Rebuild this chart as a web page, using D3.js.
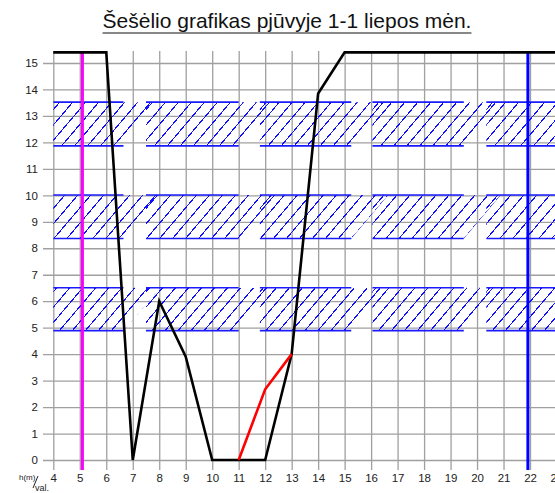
<!DOCTYPE html>
<html>
<head>
<meta charset="utf-8">
<script src="https://cdn.jsdelivr.net/npm/d3@7"></script>
<style>
  body { margin: 0; background: #fff; }
  svg { display: block; font-family: "Liberation Sans", Arial, sans-serif; }
</style>
</head>
<body>
<script>
// shadow line, hours vs height
var hours = [4, 6, 7, 8, 9, 10, 12, 13, 14, 15, 24];
var shadow = [15.4, 15.4, 0, 6, 3.9, 0, 0, 4, 13.85, 15.4, 15.4];

// red segment
var redHours = [11, 12, 13];
var redValues = [0, 2.67, 4];

// hatched bands (window rows)
var bandTop = [13.52, 10.01, 6.51];
var bandBottom = [11.87, 8.37, 4.89];
var segStart = [4, 7.5, 11.8, 16.05, 20.35];
var segEnd = [6.65, 11.0, 15.25, 19.5, 24];

// vertical markers
var sunrise = 5.1, sunset = 21.92;

var xTicks = d3.range(4, 24);
var yTicks = d3.range(0, 16);

var W = 555, H = 493;

var svg = d3.select("body").append("svg")
            .attr("width", W)
            .attr("height", H);

var x = d3.scaleLinear().domain([4, 23]).range([53.3, 556.5]);
var y = d3.scaleLinear().domain([0, 15]).range([460, 63]);

var gridTop = y(15.45), gridBottom = 470, gridLeft = 43;

// title
var title = svg.append("text")
   .attr("x", 287)
   .attr("y", 28)
   .attr("text-anchor", "middle")
   .style("font-size", "21px")
   .style("fill", "#111")
   .text("Šešėlio grafikas pjūvyje 1-1 liepos mėn.");
var tw = title.node().getComputedTextLength();
svg.append("line")
   .attr("x1", 287 - tw / 2).attr("x2", 287 + tw / 2)
   .attr("y1", 33).attr("y2", 33)
   .attr("stroke", "#111").attr("stroke-width", 1.2);

// y axis with grid
var yAxis = svg.append("g")
   .attr("transform", "translate(" + gridLeft + ",0)")
   .call(d3.axisLeft(y).tickValues(yTicks).tickSize(-(W - gridLeft + 5)).tickPadding(5));
yAxis.select(".domain").remove();
yAxis.selectAll("line").attr("stroke", "#a0a0a0").attr("stroke-width", 1.3)
     .attr("x1", 0);
yAxis.selectAll("text").style("font-size", "11.5px").style("fill", "#222")
     .style("font-family", "Liberation Sans, Arial, sans-serif");

// x axis with grid
var xAxis = svg.append("g")
   .attr("transform", "translate(0," + gridBottom + ")")
   .call(d3.axisBottom(x).tickValues(xTicks).tickSize(-(gridBottom - gridTop)).tickPadding(4));
xAxis.select(".domain").remove();
xAxis.selectAll("line").attr("stroke", "#a0a0a0").attr("stroke-width", 1.3);
xAxis.selectAll("text").style("font-size", "11.5px").style("fill", "#222")
     .style("font-family", "Liberation Sans, Arial, sans-serif");

// axis caption h(m)/val.
var cap = svg.append("g").style("fill", "#222");
cap.append("text").attr("x", 19).attr("y", 480).style("font-size", "8px").text("h(m)");
cap.append("line").attr("x1", 33).attr("y1", 488).attr("x2", 38).attr("y2", 476)
   .attr("stroke", "#222").attr("stroke-width", 1);
cap.append("text").attr("x", 35).attr("y", 491).style("font-size", "9px").text("val.");

// hatched bands
var defs = svg.append("defs");
var hatch = svg.append("g");
var spacing = 13;
bandTop.forEach(function(t, bi) {
  var yt = y(t), yb = y(bandBottom[bi]), h = yb - yt;
  segStart.forEach(function(s, si) {
    var xa = x(s), xb = x(segEnd[si]);
    var id = "clip" + bi + "_" + si;
    defs.append("clipPath").attr("id", id)
        .append("polygon")
        .attr("points", [[xa, yb], [xb, yb], [xb + h * 0.85, yt], [xa, yt]].join(" "));
    var g = hatch.append("g").attr("clip-path", "url(#" + id + ")");
    for (var x0 = xa - h + ((bi * 5) % spacing); x0 < xb + 1; x0 += spacing) {
      g.append("line")
       .attr("x1", x0).attr("y1", yb)
       .attr("x2", x0 + h * 0.85).attr("y2", yt)
       .attr("stroke", "#1010ff").attr("stroke-width", 1.1)
       .attr("shape-rendering", "crispEdges");
    }
    hatch.append("line").attr("x1", xa).attr("x2", xb).attr("y1", yt).attr("y2", yt)
         .attr("stroke", "#1a1aff").attr("stroke-width", 1.6);
    hatch.append("line").attr("x1", xa).attr("x2", xb).attr("y1", yb).attr("y2", yb)
         .attr("stroke", "#1a1aff").attr("stroke-width", 1.6);
  });
});

// vertical markers
svg.append("line")
   .attr("x1", x(sunrise)).attr("x2", x(sunrise))
   .attr("y1", gridTop).attr("y2", gridBottom)
   .attr("stroke", "#ff00ff").attr("stroke-width", 3);
svg.append("line")
   .attr("x1", x(sunset)).attr("x2", x(sunset))
   .attr("y1", gridTop).attr("y2", gridBottom)
   .attr("stroke", "#0000ff").attr("stroke-width", 3);

// shadow line
var line = d3.line()
   .x(function(d) { return x(d[0]); })
   .y(function(d) { return y(d[1]); });

svg.append("path")
   .datum(d3.zip(hours, shadow))
   .attr("d", line)
   .attr("fill", "none")
   .attr("stroke", "#000")
   .attr("stroke-width", 2.6)
   .attr("stroke-linejoin", "miter");

svg.append("path")
   .datum(d3.zip(redHours, redValues))
   .attr("d", line)
   .attr("fill", "none")
   .attr("stroke", "#ff0000")
   .attr("stroke-width", 2.6);
</script>
</body>
</html>
